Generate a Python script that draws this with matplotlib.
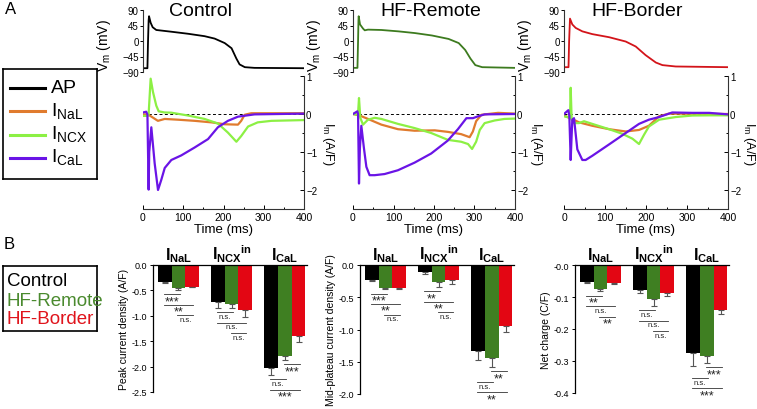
import numpy as np
import matplotlib
matplotlib.use('Agg')
import matplotlib.pyplot as plt
from matplotlib.ticker import MultipleLocator

plt.rcParams['font.family'] = ['Liberation Sans', 'DejaVu Sans']
plt.rcParams['mathtext.fontset'] = 'custom'
plt.rcParams['mathtext.rm'] = 'Liberation Sans'
plt.rcParams['mathtext.it'] = 'Liberation Sans:italic'
plt.rcParams['mathtext.bf'] = 'Liberation Sans:bold'

# ---- panel A: action potentials (ms, mV) ----
ctrl_ap_t = [0, 11, 12.5, 14, 15, 19, 24, 33, 70, 112, 153, 178, 203, 220, 232, 240, 253, 277, 400]
ctrl_ap_v = [-79, -79, 0, 60, 72, 53, 40, 32, 27, 21, 14, 7, -6, -21, -51, -68, -76, -78, -79]
rem_ap_t = [0, 11, 12.5, 13.5, 14, 17.4, 24.8, 29, 37, 70, 112, 153, 195, 236, 261, 277, 290, 302, 319, 400]
rem_ap_v = [-78, -78, 0, 60, 72, 48, 36, 31, 33, 32, 28, 23, 16, 6, -6, -26, -51, -70, -76, -78]
bor_ap_t = [0, 11, 12.5, 14.6, 20.3, 28.5, 44.7, 69, 110, 150.5, 175, 199, 224, 240, 272.5, 400]
bor_ap_v = [-76, -76, 0, 65, 48, 38, 28, 20, 11, -1.5, -16, -41, -62.5, -70, -74, -76]

# ---- panel A: currents (ms, A/F) ----
ctrl_nal_t = [0, 12, 16.6, 37, 54, 87, 128.5, 170, 203, 236, 244, 252.6, 269, 400]
ctrl_nal_i = [-0.01, -0.01, -0.04, -0.18, -0.13, -0.15, -0.18, -0.22, -0.27, -0.28, -0.18, -0.02, 0.02, 0.02]
ctrl_ncx_t = [0, 12, 14, 19, 24.8, 33, 39, 54, 70, 112, 153, 186, 211, 232, 244, 261, 285, 319, 400]
ctrl_ncx_i = [-0.05, -0.05, 0.0, 0.93, 0.58, 0.22, 0.07, 0.04, 0.035, -0.04, -0.13, -0.25, -0.49, -0.73,
              -0.58, -0.33, -0.22, -0.18, -0.16]
ctrl_cal_t = [0, 8, 11, 14, 15.5, 20.7, 29, 37.3, 45.5, 54, 70.4, 95, 128.5, 161.6, 186, 211, 236, 277, 400]
ctrl_cal_i = [0.04, 0.06, -0.01, -1.99, -1.0, -0.35, -1.3, -2.0, -1.73, -1.42, -1.21, -1.09, -0.88, -0.66,
              -0.35, -0.18, -0.07, -0.01, 0.01]

rem_nal_t = [0, 16.5, 37, 70, 111, 152, 202, 234, 267, 288, 296, 304, 317, 358, 400]
rem_nal_i = [0, -0.04, -0.13, -0.28, -0.4, -0.44, -0.43, -0.47, -0.53, -0.61, -0.46, -0.19, -0.02, 0.03, 0.01]
rem_ncx_t = [0, 12.3, 14.8, 18, 24.7, 37, 53.5, 70, 111, 152, 193, 234, 267, 284, 294, 304, 313, 325, 350, 374, 400]
rem_ncx_i = [0, -0.02, 0.42, -0.1, -0.28, -0.15, -0.1, -0.13, -0.26, -0.37, -0.5, -0.68, -0.73, -0.79, -0.92,
             -0.73, -0.42, -0.24, -0.17, -0.13, -0.12]
rem_cal_t = [0, 10.7, 12.5, 14.8, 17, 20.6, 27, 33, 41, 53.5, 78, 111, 152, 193, 234, 259, 280, 296, 309, 325, 400]
rem_cal_i = [0, 0.07, 0, -1.83, -0.9, -0.31, -0.9, -1.39, -1.61, -1.61, -1.58, -1.48, -1.28, -1.04, -0.7,
             -0.4, -0.11, -0.11, -0.06, -0.01, 0]

bor_nal_t = [0, 20, 36.6, 69, 110, 150.5, 183, 207, 232, 256, 400]
bor_nal_i = [-0.04, -0.13, -0.22, -0.31, -0.4, -0.46, -0.42, -0.31, -0.06, 0.01, 0]
bor_ncx_t = [0, 14.6, 16.3, 18.7, 24.4, 36.6, 48.8, 69, 110, 142, 167, 183, 195, 207, 232, 272.5, 313, 354, 400]
bor_ncx_i = [-0.06, -0.1, 0.69, -0.15, -0.24, -0.24, -0.19, -0.26, -0.4, -0.52, -0.65, -0.79, -0.55, -0.33,
             -0.15, -0.08, -0.04, -0.035, -0.035]
bor_cal_t = [0, 10.6, 13, 16.3, 18.5, 20.3, 24.4, 32.5, 44.7, 52.8, 69, 110, 150.5, 183, 207, 232, 264, 313, 354, 400]
bor_cal_i = [0, 0.1, -0.05, -1.21, -0.6, -0.15, -0.11, -0.93, -1.21, -1.21, -1.1, -0.8, -0.5, -0.26, -0.15,
             -0.08, 0.04, 0.03, 0.03, -0.01]

# ---- panel B: bar data (Control, HF-Remote, HF-Border) x (NaL, NCXin, CaL) ----
peak_ctrl = [-0.33, -0.73, -2.03]
peak_ctrl_err = [0.02, 0.11, 0.13]
peak_rem = [-0.46, -0.76, -1.79]
peak_rem_err = [0.03, 0.08, 0.08]
peak_bor = [-0.43, -0.88, -1.40]
peak_bor_err = [0.01, 0.14, 0.11]

mid_ctrl = [-0.24, -0.11, -1.33]
mid_ctrl_err = [0.01, 0.035, 0.14]
mid_rem = [-0.36, -0.265, -1.44]
mid_rem_err = [0.015, 0.075, 0.14]
mid_bor = [-0.35, -0.225, -0.94]
mid_bor_err = [0.02, 0.065, 0.10]

net_ctrl = [-0.053, -0.077, -0.274]
net_ctrl_err = [0.003, 0.011, 0.043]
net_rem = [-0.076, -0.107, -0.284]
net_rem_err = [0.006, 0.02, 0.022]
net_bor = [-0.056, -0.0875, -0.142]
net_bor_err = [0.004, 0.009, 0.012]

peak_sig = [[(0, 1, '***'), (0, 2, '**'), (1, 2, 'n.s.')],
            [(0, 1, 'n.s.'), (0, 2, 'n.s.'), (1, 2, 'n.s.')],
            [(1, 2, '***'), (0, 1, 'n.s.'), (0, 2, '***')]]
mid_sig = [[(0, 1, '***'), (0, 2, '**'), (1, 2, 'n.s.')],
           [(0, 1, '**'), (0, 2, '**'), (1, 2, 'n.s.')],
           [(1, 2, '**'), (0, 1, 'n.s.'), (0, 2, '**')]]
net_sig = [[(0, 1, '**'), (0, 2, 'n.s.'), (1, 2, '**')],
           [(0, 1, 'n.s.'), (0, 2, 'n.s.'), (1, 2, 'n.s.')],
           [(1, 2, '***'), (0, 1, 'n.s.'), (0, 2, '***')]]

conditions = ['Control', 'HF-Remote', 'HF-Border']
group_labels = [r'$\mathbf{I_{NaL}}$', r'$\mathbf{I}_{\mathbf{NCX}}{}^{\mathbf{in}}$', r'$\mathbf{I_{CaL}}$']
current_names = [r'I$_\mathregular{NaL}$', r'I$_\mathregular{NCX}$', r'I$_\mathregular{CaL}$']

ap_colors = ['black', '#3d7b1f', '#d3141a']
cur_colors = ['#e07b2e', '#8cf044', '#6a14e6']
bar_colors = ['black', '#3f7f22', '#e30613']

W, H = 757, 410
fig = plt.figure(figsize=(W / 100, H / 100), dpi=100)


def rect(x, y, w, h):
    return [x / W, 1 - (y + h) / H, w / W, h / H]


ap_t = [ctrl_ap_t, rem_ap_t, bor_ap_t]
ap_v = [ctrl_ap_v, rem_ap_v, bor_ap_v]
cur_t = [[ctrl_nal_t, ctrl_ncx_t, ctrl_cal_t], [rem_nal_t, rem_ncx_t, rem_cal_t], [bor_nal_t, bor_ncx_t, bor_cal_t]]
cur_i = [[ctrl_nal_i, ctrl_ncx_i, ctrl_cal_i], [rem_nal_i, rem_ncx_i, rem_cal_i], [bor_nal_i, bor_ncx_i, bor_cal_i]]

lefts = [143, 353, 564]
widths = [161, 162, 164]
title_x = [200, 431, 637]
im_offset = [24, 21, 21]

for k in range(3):
    left, w = lefts[k], widths[k]
    # AP trace
    ax = fig.add_axes(rect(left, 11, w, 62))
    ax.plot(ap_t[k], ap_v[k], color=ap_colors[k], lw=1.3)
    ax.set_xlim(0, 400)
    ax.set_ylim(-90, 90)
    ax.set_yticks([-90, -45, 0, 45, 90])
    for s in ['top', 'right', 'bottom']:
        ax.spines[s].set_visible(False)
    ax.spines['left'].set_linewidth(0.8)
    ax.spines['left'].set_color('#333333')
    ax.xaxis.set_visible(False)
    ax.tick_params(axis='y', direction='out', length=2, pad=1, labelsize=7, width=0.7)
    ax.set_ylabel(r'V$_\mathregular{m}$ (mV)', fontsize=10)
    ax.yaxis.set_label_coords(-30 / w, 0.45)
    ax.patch.set_alpha(0)
    fig.text(title_x[k] / W, 1 - 11 / H, conditions[k], ha='center', va='center', fontsize=14)

    # currents
    ax = fig.add_axes(rect(left, 77, w, 133))
    ax.axhline(0, color='black', lw=0.7, ls=(0, (3, 2.5)))
    for c in range(3):
        ax.plot(cur_t[k][c], cur_i[k][c], color=cur_colors[c], lw=1.6)
    ax.set_xlim(0, 400)
    ax.set_ylim(-2.5, 1)
    ax.spines['top'].set_visible(False)
    ax.spines['left'].set_visible(False)
    for s in ['right', 'bottom']:
        ax.spines[s].set_linewidth(0.8)
        ax.spines[s].set_color('#333333')
    ax.yaxis.tick_right()
    ax.set_yticks([-2, -1, 0, 1])
    ax.yaxis.set_minor_locator(MultipleLocator(0.5))
    ax.set_xticks([0, 100, 200, 300, 400])
    ax.xaxis.set_minor_locator(MultipleLocator(50))
    ax.tick_params(axis='both', which='both', direction='in', labelsize=7.5, width=0.7, pad=2)
    ax.tick_params(axis='y', labelsize=7, pad=1.5)
    ax.tick_params(which='major', length=3)
    ax.tick_params(which='minor', length=1.8)
    ax.set_xlabel('Time (ms)', fontsize=9.5, labelpad=1)
    ax.yaxis.set_label_position('right')
    ax.set_ylabel(r'I$_\mathregular{m}$ (A/F)', fontsize=9, rotation=270, va='center', ha='center')
    ax.yaxis.set_label_coords(1 + im_offset[k] / w, 0.5)
    ax.patch.set_alpha(0)

# legend A
lax = fig.add_axes(rect(3, 70, 94, 110))
lax.set_xlim(0, 94)
lax.set_ylim(110, 0)
lax.set_xticks([])
lax.set_yticks([])
for s in lax.spines.values():
    s.set_linewidth(1.2)
leg_names = ['AP'] + current_names
leg_cols = ['black'] + cur_colors
for n, (name, col) in enumerate(zip(leg_names, leg_cols)):
    y = 19 + n * 23.3
    lax.plot([7, 42], [y, y], color=col, lw=2.2)
    lax.text(48, y - (0 if n == 0 else 1.5), name, fontsize=14, va='center', ha='left')

# legend B
lbx = fig.add_axes(rect(3, 267, 94, 65))
lbx.set_xlim(0, 94)
lbx.set_ylim(65, 0)
lbx.set_xticks([])
lbx.set_yticks([])
for s in lbx.spines.values():
    s.set_linewidth(1.2)
legb_cols = ['black', '#4a8a2e', '#e0141c']
for n, (name, col) in enumerate(zip(conditions, legb_cols)):
    lbx.text(4, 15 + n * 19, name, fontsize=13.5, color=col, va='center', ha='left')

fig.text(5 / W, 1 - 9 / H, 'A', fontsize=12, va='center', ha='left')
fig.text(4 / W, 1 - 245 / H, 'B', fontsize=12, va='center', ha='left')

# panel B bars
bar_sets = [
    ([peak_ctrl, peak_rem, peak_bor], [peak_ctrl_err, peak_rem_err, peak_bor_err], peak_sig,
     'Peak current density (A/F)', (-2.5, 0), 0.5, '%.1f'),
    ([mid_ctrl, mid_rem, mid_bor], [mid_ctrl_err, mid_rem_err, mid_bor_err], mid_sig,
     'Mid-plateau current density (A/F)', (-2.0, 0), 0.5, '%.1f'),
    ([net_ctrl, net_rem, net_bor], [net_ctrl_err, net_rem_err, net_bor_err], net_sig,
     'Net charge (C/F)', (-0.4, 0), 0.1, '%.1f'),
]
bar_lefts = [153, 360, 575]
bar_heights = [127, 129, 128]
bw = 0.26
gx = np.arange(3)

for p, (vals, errs, sig, ylab, ylim, step, fmt) in enumerate(bar_sets):
    hpx = bar_heights[p]
    ax = fig.add_axes(rect(bar_lefts[p], 266, 154, hpx))
    for k in range(3):
        ax.bar(gx + (k - 1) * bw, vals[k], bw, color=bar_colors[k],
               yerr=[errs[k], [0, 0, 0]],
               error_kw=dict(ecolor='#555555', elinewidth=0.8, capsize=2.5, capthick=0.8))
    ax.set_xlim(-0.48, 2.42)
    ax.set_ylim(*ylim)
    ax.set_yticks(np.arange(ylim[0], 0.001, step))
    ax.yaxis.set_major_formatter(matplotlib.ticker.FormatStrFormatter(fmt))
    ax.set_xticks([])
    for s in ['bottom', 'right']:
        ax.spines[s].set_visible(False)
    for s in ['top', 'left']:
        ax.spines[s].set_linewidth(0.9)
    ax.tick_params(axis='y', direction='out', length=2.5, width=0.7, pad=1.5, labelsize=6.5)
    ax.set_ylabel(ylab, fontsize=7.5, labelpad=2)
    for g in range(3):
        ax.text(g, 0.01 * (ylim[1] - ylim[0]), group_labels[g], ha='center', va='bottom',
                fontsize=11.5, clip_on=False)
    # significance brackets
    upp = (ylim[1] - ylim[0]) / hpx
    for g, comps in enumerate(sig):
        bottoms = [vals[k][g] - errs[k][g] for k in range(3)]
        prev = None
        for i, j, lab in comps:
            y = min(bottoms[i:j + 1]) - 4.5 * upp
            if prev is not None:
                y = min(y, prev - 10.5 * upp)
            prev = y
            x1 = g + (i - 1) * bw - 0.02
            x2 = g + (j - 1) * bw + 0.02
            ax.plot([x1, x2], [y, y], color='#333333', lw=0.6, clip_on=False)
            star = '*' in lab
            ax.text((x1 + x2) / 2, y - 0.6 * upp, lab, ha='center', va='top',
                    fontsize=9 if star else 5.5, color='#222222', clip_on=False)

fig.savefig('out.png', dpi=100)
